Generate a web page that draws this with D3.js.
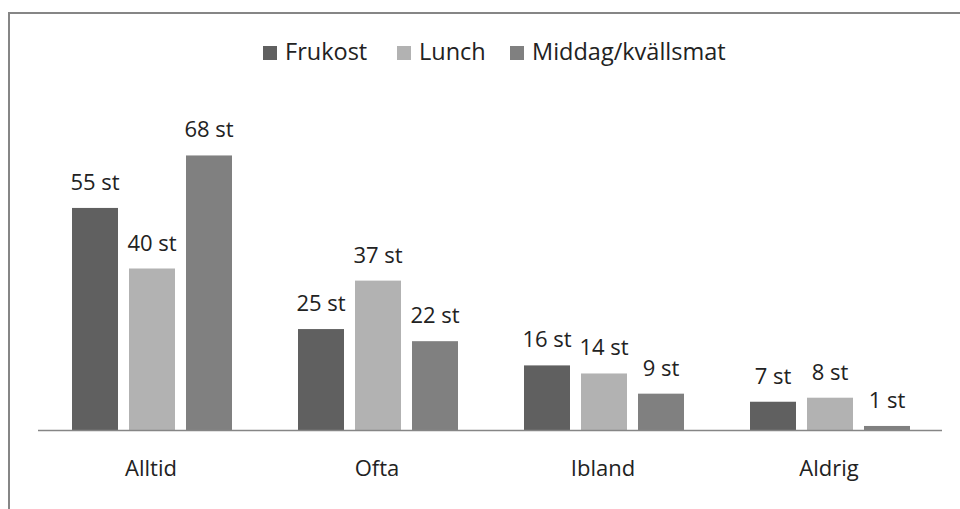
<!DOCTYPE html>
<html>
<head>
<meta charset="utf-8">
<script src="https://cdn.jsdelivr.net/npm/d3@7"></script>
<style>
  body { margin: 0; background: #fff; }
  text { font-family: "Open Sans", sans-serif; fill: #222; }
</style>
</head>
<body>
<svg></svg>
<script>
var categories = ["Alltid", "Ofta", "Ibland", "Aldrig"];
var seriesNames = ["Frukost", "Lunch", "Middag/kvällsmat"];
var frukost = [55, 25, 16, 7];
var lunch = [40, 37, 14, 8];
var middag = [68, 22, 9, 1];
var unit = " st";

var svgWidth = 960, svgHeight = 509;
var svg = d3.select("svg").attr("width", svgWidth).attr("height", svgHeight);

var colors = ["#606060", "#b2b2b2", "#808080"];
var seriesValues = [frukost, lunch, middag];

// outer frame, right and bottom edges run off the picture
svg.append("rect")
    .attr("x", 9).attr("y", 13)
    .attr("width", 1000).attr("height", 600)
    .attr("fill", "none")
    .attr("stroke", "#868686")
    .attr("stroke-width", 2);

var plot = {left: 38, right: 942, top: 107, bottom: 430};

// group width 226: bars 46, gaps 11
var x0 = d3.scaleBand().domain(categories).range([plot.left, plot.right]);
var x1 = d3.scaleBand().domain(d3.range(3)).range([34, 34 + 160]).paddingInner(11 / 57);

var y = d3.scaleLinear().domain([0, 80]).range([plot.bottom, plot.top]);

var rows = [];
categories.forEach(function(c, i) {
    seriesValues.forEach(function(vals, s) {
        rows.push({cat: c, s: s, v: vals[i]});
    });
});

svg.selectAll("rect.bar")
    .data(rows)
    .enter()
    .append("rect")
    .attr("class", "bar")
    .attr("x", function(d) { return x0(d.cat) + x1(d.s); })
    .attr("y", function(d) { return y(d.v); })
    .attr("width", x1.bandwidth())
    .attr("height", function(d) { return y(0) - y(d.v); })
    .attr("fill", function(d) { return colors[d.s]; });

svg.selectAll("text.val")
    .data(rows)
    .enter()
    .append("text")
    .attr("class", "val")
    .attr("x", function(d) { return x0(d.cat) + x1(d.s) + x1.bandwidth() / 2; })
    .attr("y", function(d) { return y(d.v) - 18; })
    .attr("text-anchor", "middle")
    .style("font-size", "22px")
    .text(function(d) { return d.v + unit; });

// baseline
svg.append("line")
    .attr("x1", plot.left).attr("x2", plot.right)
    .attr("y1", y(0) + 0.5).attr("y2", y(0) + 0.5)
    .attr("stroke", "#868686")
    .attr("stroke-width", 1.5);

var xAxis = d3.axisBottom(x0).tickSize(0).tickPadding(0);
var ax = svg.append("g")
    .attr("transform", "translate(0," + y(0) + ")")
    .call(xAxis);
ax.select(".domain").remove();
ax.selectAll("text")
    .attr("dy", null)
    .attr("x", 0)
    .attr("y", 46)
    .style("font-size", "22px")
    .style("font-family", "'Open Sans', sans-serif")
    .attr("fill", "#222");

// legend
var legendX = [263, 397, 510];
var leg = svg.selectAll("g.leg")
    .data(seriesNames)
    .enter()
    .append("g")
    .attr("class", "leg")
    .attr("transform", function(d, i) { return "translate(" + legendX[i] + ",46)"; });
leg.append("rect")
    .attr("width", 14).attr("height", 14)
    .attr("fill", function(d, i) { return colors[i]; });
leg.append("text")
    .attr("x", 22)
    .attr("y", 14)
    .style("font-size", "23.5px")
    .text(function(d) { return d; });
</script>
</body>
</html>
